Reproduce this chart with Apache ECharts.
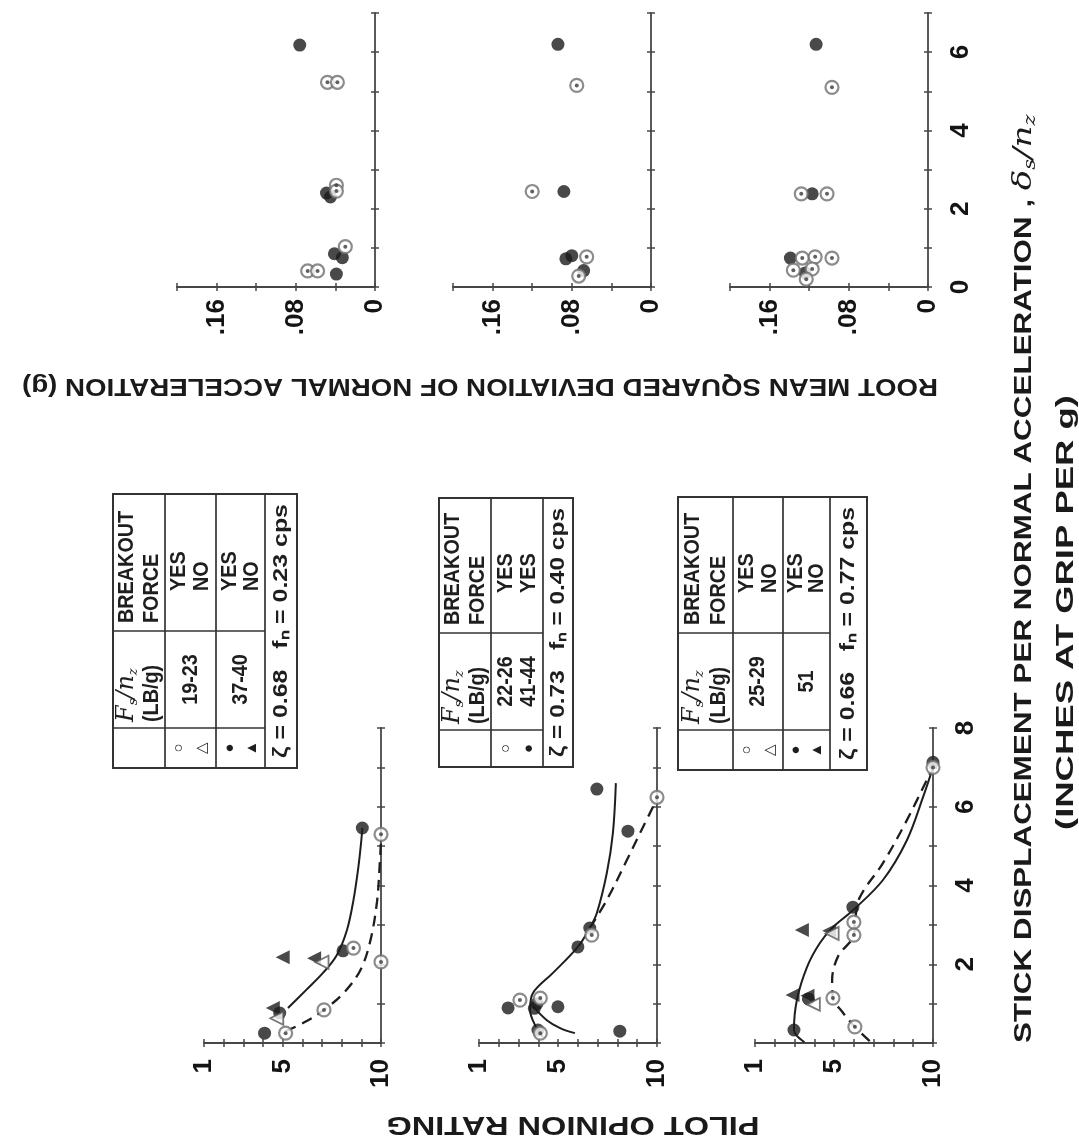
<!DOCTYPE html>
<html><head><meta charset="utf-8">
<script src="https://cdn.jsdelivr.net/npm/echarts@6/dist/echarts.min.js"></script>
<style>html,body{margin:0;padding:0;background:#fff}#c{width:1079px;height:1143px;background:#fff}</style>
</head><body><div id="c"></div>
<script>
// ---------------- DATA ----------------
// Tick labels
const rmsTickLabels = ['0', '.08', '.16'];
const ratingTickLabels = ['1', '5', '10'];
const stickTickLabelsTop = ['0', '2', '4', '6'];
const stickTickLabelsBottom = ['2', '4', '6', '8'];

// Titles
const titleRms = 'ROOT MEAN SQUARED DEVIATION OF NORMAL ACCELERATION (g)';
const titleRating = 'PILOT OPINION RATING';
const titleStick = 'STICK DISPLACEMENT PER NORMAL ACCELERATION , ';
const titleStickSym = ['δ', 's', '/n', 'z'];
const titleUnits = '(INCHES AT GRIP PER g)';

// RMS panels [rms (g), stick displacement]
const r1Filled = [[0.076, 6.18], [0.049, 2.40], [0.045, 2.30], [0.033, 0.75], [0.041, 0.85], [0.039, 0.33]];
const r1Dotted = [[0.048, 5.23], [0.038, 5.23], [0.039, 2.60], [0.039, 2.45], [0.030, 1.03], [0.068, 0.41], [0.058, 0.41]];
const r2Filled = [[0.094, 6.20], [0.088, 2.44], [0.086, 0.72], [0.080, 0.80], [0.068, 0.42]];
const r2Dotted = [[0.075, 5.15], [0.120, 2.44], [0.065, 0.77], [0.073, 0.28]];
const r3Filled = [[0.113, 6.20], [0.117, 2.38], [0.139, 0.74], [0.124, 0.36]];
const r3Dotted = [[0.097, 5.10], [0.128, 2.38], [0.102, 2.38], [0.127, 0.74], [0.114, 0.77], [0.097, 0.74], [0.136, 0.43], [0.117, 0.46], [0.123, 0.20]];

// Pilot rating panels [rating, stick displacement]
const p1Filled = [[9.05, 5.46], [8.07, 2.34], [4.85, 0.76], [4.08, 0.25]];
const p1Dotted = [[10, 5.30], [10, 2.06], [8.6, 2.41], [5.15, 0.25], [7.1, 0.84]];
const p1TriFilled = [[5.0, 2.18], [6.6, 2.15], [4.5, 0.89]];
const p1TriOpen = [[7.0, 2.05], [4.7, 0.63]];
const p1Solid = [[5.27, 0.89], [6.2, 1.35], [7.05, 1.78], [7.75, 2.23], [8.27, 2.87], [8.6, 3.63], [8.85, 4.47], [9.0, 5.15], [9.05, 5.46]];
const p1Dashed = [[5.15, 0.30], [6.2, 0.55], [7.1, 0.84], [8.1, 1.27], [8.95, 1.85], [9.46, 2.6], [9.8, 3.6], [9.93, 4.5], [10, 5.15]];

const p2Filled = [[6.96, 6.45], [8.53, 5.38], [6.6, 2.92], [6.0, 2.44], [2.47, 0.89], [3.93, 1.0], [3.8, 0.88], [4.99, 0.92], [3.98, 0.33], [8.12, 0.30]];
const p2Dotted = [[10, 6.24], [6.7, 2.74], [3.07, 1.09], [4.1, 1.14], [4.1, 0.25]];
const p2Solid = [[7.92, 6.6], [7.77, 5.33], [7.46, 4.31], [6.96, 3.3], [6.6, 2.92], [6.0, 2.44], [4.74, 1.78], [3.73, 1.27], [3.58, 0.84], [3.83, 0.46], [4.23, 0.15]];
const p2SolidBranch = [[3.7, 0.95], [4.43, 0.58], [5.1, 0.38], [5.85, 0.25]];
const p2Dashed = [[6.6, 2.92], [7.46, 3.63], [8.47, 4.64], [9.3, 5.49], [10, 6.2]];

const p3Filled = [[10, 7.13], [5.95, 3.45], [3.7, 1.12], [2.97, 0.33]];
const p3Dotted = [[10, 7.0], [6.0, 3.07], [6.0, 2.74], [4.94, 1.14], [6.05, 0.41]];
const p3TriFilled = [[3.37, 2.87], [4.75, 2.85], [2.9, 1.22], [3.65, 1.2]];
const p3TriOpen = [[4.9, 2.78], [3.95, 0.98]];
const p3Solid = [[3.5, 0.02], [2.97, 0.33], [3.12, 1.1], [3.63, 1.93], [4.28, 2.54], [4.94, 2.94], [5.95, 3.37], [7.47, 4.14], [8.68, 5.15], [9.5, 6.25], [10, 7.0]];
const p3Dashed = [[6.8, 0.05], [6.05, 0.41], [5.4, 0.8], [4.94, 1.14], [4.9, 1.6], [5.2, 2.2], [6.0, 2.74], [6.05, 3.07], [6.3, 3.7], [7.47, 4.57], [8.68, 5.66], [9.85, 6.85]];

// Legend tables
const tableHead = ['BREAKOUT', 'FORCE'];
const tableUnit = '(LB/g)';
const t1Symbols = [['○', '△'], ['●', '▲']];
const t1Values = ['19-23', '37-40'];
const t1Breakout = [['YES', 'NO'], ['YES', 'NO']];
const t1Footer = 'ζ = 0.68   fₙ = 0.23 cps';
const t2Symbols = [['○', '●']];
const t2Values = [['22-26', '41-44']];
const t2Breakout = [['YES', 'YES']];
const t2Footer = 'ζ = 0.73   fₙ = 0.40 cps';
const t3Symbols = [['○', '△'], ['●', '▲']];
const t3Values = ['25-29', '51'];
const t3Breakout = [['YES', 'NO'], ['YES', 'NO']];
const t3Footer = 'ζ = 0.66   fₙ = 0.77 cps';

// ---------------- LAYOUT ----------------
const FONT = '"Liberation Sans", Arial, Helvetica, sans-serif';
const AX = '#474747';
const grids = [
  {left: 177, top: 13, width: 198, height: 274},
  {left: 453, top: 13, width: 198, height: 274},
  {left: 730, top: 13, width: 198, height: 274},
  {left: 204, top: 728, width: 177, height: 315},
  {left: 479, top: 728, width: 178, height: 315},
  {left: 755, top: 728, width: 178, height: 315}
].map(g => Object.assign(g, {containLabel: false, outerBoundsMode: 'none'}));

const mctx = document.createElement('canvas').getContext('2d');
function tw(str, font) { mctx.font = font; return mctx.measureText(str).width; }

function axisPair(gridIndex, cfg) {
  const base = {gridIndex, type: 'value', min: cfg.min, max: cfg.max, interval: cfg.interval,
    inverse: !!cfg.inverse, position: cfg.position, splitLine: {show: false}, axisPointer: {show: false}};
  const main = Object.assign({}, base, {
    axisLine: {show: true, onZero: false, lineStyle: {color: AX, width: 1.8}},
    axisTick: {show: true, inside: false, length: 4, lineStyle: {color: AX, width: 1.5}},
    axisLabel: {show: !!cfg.labels, rotate: 90, margin: cfg.margin || 10,
      formatter: cfg.labels || (() => ''), color: '#141414', fontSize: 26, fontWeight: 'bold', fontFamily: FONT}
  });
  const inner = Object.assign({}, base, {
    axisLine: {show: false, onZero: false},
    axisTick: {show: true, inside: true, length: 4, lineStyle: {color: AX, width: 1.5}},
    axisLabel: {show: false}
  });
  return [main, inner];
}

const rmsFmt = v => { const k = Math.round(v * 100); return k === 0 ? rmsTickLabels[0] : k === 8 ? rmsTickLabels[1] : k === 16 ? rmsTickLabels[2] : ''; };
const ratingFmt = v => { const i = [1, 5, 10].indexOf(Math.round(v)); return i >= 0 ? ratingTickLabels[i] : ''; };
const stickTopFmt = v => { const i = [0, 2, 4, 6].indexOf(Math.round(v)); return i >= 0 ? stickTickLabelsTop[i] : ''; };
const stickBotFmt = v => { const i = [2, 4, 6, 8].indexOf(Math.round(v)); return i >= 0 ? stickTickLabelsBottom[i] : ''; };

const xAxes = [], yAxes = [];
for (let g = 0; g < 6; g++) {
  if (g < 3) {
    xAxes.push(...axisPair(g, {min: 0, max: 0.2, interval: 0.04, inverse: true, position: 'bottom', labels: rmsFmt, margin: 12}));
    yAxes.push(...axisPair(g, {min: 0, max: 7, interval: 1, position: 'right', labels: g === 2 ? stickTopFmt : null, margin: 20}));
  } else {
    xAxes.push(...axisPair(g, {min: 1, max: 10, interval: 1, position: 'bottom', labels: ratingFmt, margin: 16}));
    yAxes.push(...axisPair(g, {min: 0, max: 8, interval: 1, position: 'right', labels: g === 5 ? stickBotFmt : null, margin: 20}));
  }
}

const series = [];
function ax(g) { return {xAxisIndex: 2 * g, yAxisIndex: 2 * g, clip: false, silent: true, animation: false}; }
function filled(g, d) { series.push(Object.assign(ax(g), {type: 'scatter', data: d, symbol: 'circle', symbolSize: 13, itemStyle: {color: '#1c1c1c'}, z: 5})); }
function dotted(g, d) {
  series.push(Object.assign(ax(g), {type: 'scatter', data: d, symbol: 'circle', symbolSize: 13, itemStyle: {color: '#fff', borderColor: '#6f6f6f', borderWidth: 2.2}, z: 6}));
  series.push(Object.assign(ax(g), {type: 'scatter', data: d, symbol: 'circle', symbolSize: 4, itemStyle: {color: '#3a3a3a'}, z: 7}));
}
function triF(g, d) { series.push(Object.assign(ax(g), {type: 'scatter', data: d, symbol: 'triangle', symbolRotate: 90, symbolSize: 14, itemStyle: {color: '#1c1c1c'}, z: 5})); }
function triO(g, d) { series.push(Object.assign(ax(g), {type: 'scatter', data: d, symbol: 'triangle', symbolRotate: 90, symbolSize: 13, itemStyle: {color: '#fff', borderColor: '#555', borderWidth: 1.8}, z: 6})); }
function line(g, d, dashed) {
  series.push(Object.assign(ax(g), {type: 'line', data: d, smooth: 0.35, symbol: 'none', showSymbol: false,
    lineStyle: {color: '#1e1e1e', width: dashed ? 2.3 : 2, type: dashed ? [11, 7] : 'solid'}, z: 3}));
}

filled(0, r1Filled); dotted(0, r1Dotted);
filled(1, r2Filled); dotted(1, r2Dotted);
filled(2, r3Filled); dotted(2, r3Dotted);
line(3, p1Solid, false); line(3, p1Dashed, true);
filled(3, p1Filled); dotted(3, p1Dotted); triF(3, p1TriFilled); triO(3, p1TriOpen);
line(4, p2Solid, false); line(4, p2SolidBranch, false); line(4, p2Dashed, true);
filled(4, p2Filled); dotted(4, p2Dotted);
line(5, p3Solid, false); line(5, p3Dashed, true);
filled(5, p3Filled); dotted(5, p3Dotted); triF(5, p3TriFilled); triO(5, p3TriOpen);

// ---------------- GRAPHIC (titles + tables) ----------------
const graphic = [];
function titleText(text, x, y, rot, align, target, size) {
  const font = 'bold ' + size + 'px ' + FONT;
  const sx = target / tw(text, font);
  graphic.push({type: 'text', x, y, rotation: rot, scaleX: sx, silent: true,
    style: {text, font, fill: '#1a1a1a', align, textAlign: align, verticalAlign: 'middle', textVerticalAlign: 'middle'}});
}
titleText(titleRms, 938, 386, Math.PI, 'left', 916, 24);
titleText(titleRating, 573, 1124, Math.PI, 'center', 373, 25);
titleText(titleUnits, 1066, 830, Math.PI / 2, 'left', 435, 24);
(function () {
  const plain = titleStick + titleStickSym.join('');
  const sx = 933 / tw(plain, 'bold 24px ' + FONT);
  graphic.push({type: 'text', x: 1024, y: 1043, rotation: Math.PI / 2, scaleX: sx, silent: true,
    style: {text: titleStick + '{d|' + titleStickSym[0] + '}{s|' + titleStickSym[1] + '}{d|' + titleStickSym[2] + '}{s|' + titleStickSym[3] + '}',
      fontSize: 24, fontWeight: 'bold', fontFamily: FONT, fill: '#1a1a1a', align: 'left', textAlign: 'left', verticalAlign: 'middle', textVerticalAlign: 'middle',
      rich: {d: {fontSize: 26, fontStyle: 'italic', fontFamily: '"DejaVu Serif", serif', fill: '#1a1a1a', lineHeight: 30, verticalAlign: 'middle'},
             s: {fontSize: 16, fontStyle: 'italic', fontFamily: '"DejaVu Serif", serif', fill: '#1a1a1a', lineHeight: 30, verticalAlign: 'bottom'}}}});
})();

const tableLayouts = [
  {x: 113, y: 768, w: 274, h: 184, colA: 40, colB: 137, rows: [52, 103, 152]},
  {x: 439, y: 767, w: 269, h: 134, colA: 37, colB: 134, rows: [52, 104]},
  {x: 678, y: 770, w: 273, h: 189, colA: 40, colB: 137, rows: [55, 105, 152]}
];
function tt(ch, text, x, y, align, size, sx, weight) {
  ch.push({type: 'text', x, y, scaleX: sx || 0.9, silent: true,
    style: {text, font: (weight || 'bold') + ' ' + (size || 22) + 'px ' + FONT, fill: '#1e1e1e', align, textAlign: align, verticalAlign: 'middle', textVerticalAlign: 'middle'}});
}
function buildTable(L, symbols, values, breakout, footer) {
  const ch = [];
  const S = '#333';
  ch.push({type: 'rect', shape: {x: 0, y: 0, width: L.w, height: L.h}, style: {fill: '#fff', stroke: S, lineWidth: 2}});
  L.rows.forEach(r => ch.push({type: 'line', shape: {x1: 0, y1: r, x2: L.w, y2: r}, style: {stroke: S, lineWidth: 1.7}}));
  const last = L.rows[L.rows.length - 1];
  [L.colA, L.colB].forEach(c => ch.push({type: 'line', shape: {x1: c, y1: 0, x2: c, y2: last}, style: {stroke: S, lineWidth: 1.7}}));
  const r0 = L.rows[0];
  const h1 = r0 * 0.27, h2 = r0 * 0.75;
  tt(ch, tableHead[0], L.colB + 8, h1, 'left');
  tt(ch, tableHead[1], L.colB + 8, h2, 'left');
  ch.push({type: 'text', x: L.colA + 6, y: h1, silent: true,
    style: {text: '{f|F}{s|s}{f|/n}{s|z}', fontSize: 23, fontFamily: FONT, fill: '#1e1e1e', align: 'left', textAlign: 'left', verticalAlign: 'middle', textVerticalAlign: 'middle',
      rich: {f: {fontSize: 24, fontStyle: 'italic', fontFamily: '"DejaVu Serif", serif', fill: '#1e1e1e', lineHeight: 26, verticalAlign: 'middle'},
             s: {fontSize: 13, fontStyle: 'italic', fontFamily: '"DejaVu Serif", serif', fill: '#1e1e1e', lineHeight: 26, verticalAlign: 'bottom'}}}});
  tt(ch, tableUnit, L.colA + 6, h2, 'left');
  for (let k = 0; k < symbols.length; k++) {
    const top = L.rows[k], bot = L.rows[k + 1];
    const l1 = top + (bot - top) * 0.28, l2 = top + (bot - top) * 0.73, mid = (top + bot) / 2;
    tt(ch, symbols[k][0], L.colA / 2, l1, 'center', 15, 1, 'normal');
    tt(ch, symbols[k][1], L.colA / 2, l2, 'center', 15, 1, 'normal');
    const cB = (L.colA + L.colB) / 2;
    if (Array.isArray(values[k])) { tt(ch, values[k][0], cB, l1, 'center'); tt(ch, values[k][1], cB, l2, 'center'); }
    else tt(ch, values[k], cB, mid, 'center');
    tt(ch, breakout[k][0], L.colB + 40, l1, 'left');
    tt(ch, breakout[k][1], L.colB + 40, l2, 'left');
  }
  const fy = (last + L.h) / 2;
  const ff = 'bold 21px ' + FONT;
  const fsx = (L.w - 20) / tw(footer, ff);
  tt(ch, footer, 10, fy, 'left', 21, fsx);
  graphic.push({type: 'group', x: L.x, y: L.y, rotation: Math.PI / 2, silent: true, children: ch});
}
buildTable(tableLayouts[0], t1Symbols, t1Values, t1Breakout, t1Footer);
buildTable(tableLayouts[1], t2Symbols, t2Values, t2Breakout, t2Footer);
buildTable(tableLayouts[2], t3Symbols, t3Values, t3Breakout, t3Footer);

const chart = echarts.init(document.getElementById('c'), null, {renderer: 'canvas'});
chart.setOption({
  backgroundColor: '#ffffff',
  animation: false,
  grid: grids,
  xAxis: xAxes,
  yAxis: yAxes,
  series,
  graphic
});
</script>
</body></html>
